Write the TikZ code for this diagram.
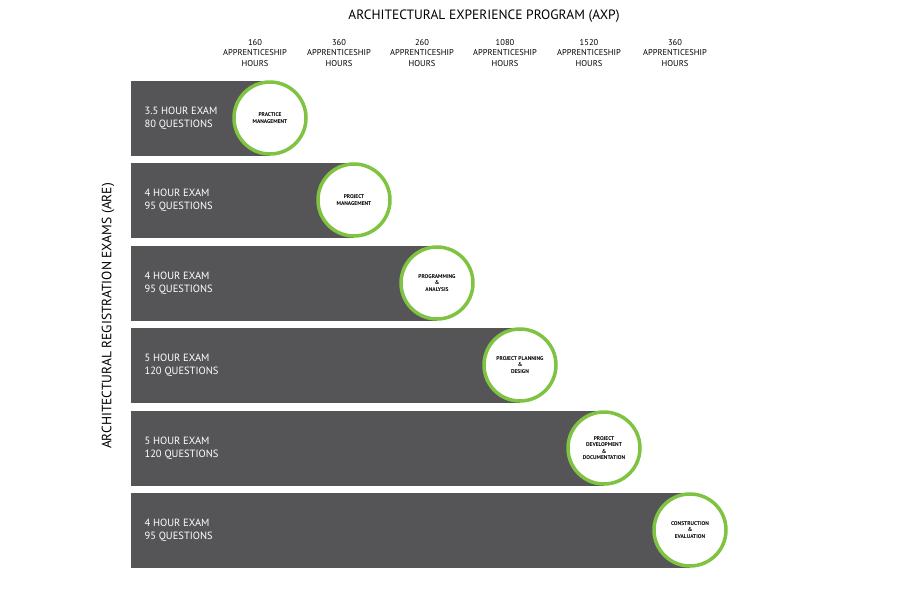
\documentclass[tikz,border=0pt]{standalone}
\usepackage{fontspec}
\setmainfont{PT Sans}
\begin{document}
\begin{tikzpicture}[x=1pt,y=-1pt,
 bar/.style={fill=barc,draw=none},
 ring/.style={circle,draw=ringc,line width=3.5pt,fill=white,minimum size=72pt,inner sep=0pt,align=center,font=\fontsize{5.5}{6.5}\selectfont\bfseries},
 exam/.style={text=white,align=left,anchor=west,font=\fontsize{10.5}{13}\selectfont},
 hrs/.style={align=center,font=\fontsize{8.5}{10.5}\selectfont}]
\definecolor{barc}{HTML}{555557}
\definecolor{ringc}{HTML}{80C342}
\useasboundingbox (0,0) rectangle (900,600);
\node[font=\fontsize{13.5}{15}\selectfont] (title) at (484,16) {ARCHITECTURAL EXPERIENCE PROGRAM (AXP)};
\node[rotate=90,font=\fontsize{13.5}{15}\selectfont] (are) at (108,316) {ARCHITECTURAL REGISTRATION EXAMS (ARE)};
\foreach \i/\cx/\cy/\h/\e/\lab in {
 1/270/118/160/{3.5 HOUR EXAM\\80 QUESTIONS}/{PRACTICE\\MANAGEMENT},
 2/354/200/360/{4 HOUR EXAM\\95 QUESTIONS}/{PROJECT\\MANAGEMENT},
 3/437/283/260/{4 HOUR EXAM\\95 QUESTIONS}/{PROGRAMMING\\\&\\ANALYSIS},
 4/520/365/1080/{5 HOUR EXAM\\120 QUESTIONS}/{PROJECT PLANNING\\\&\\DESIGN},
 5/604/448/1520/{5 HOUR EXAM\\120 QUESTIONS}/{PROJECT\\DEVELOPMENT\\\&\\DOCUMENTATION},
 6/690/530/360/{4 HOUR EXAM\\95 QUESTIONS}/{CONSTRUCTION\\\&\\EVALUATION}}{
 \fill[barc] (131,\cy-37.5) rectangle (\cx,\cy+37.5);
 \node[exam] (e\i) at (141,\cy) {\e};
 \node[ring] (c\i) at (\cx,\cy) {\lab};
 \node[hrs] (h\i) at (\cx-15,53) {\h\\APPRENTICESHIP\\HOURS};
}
\end{tikzpicture}
\end{document}
